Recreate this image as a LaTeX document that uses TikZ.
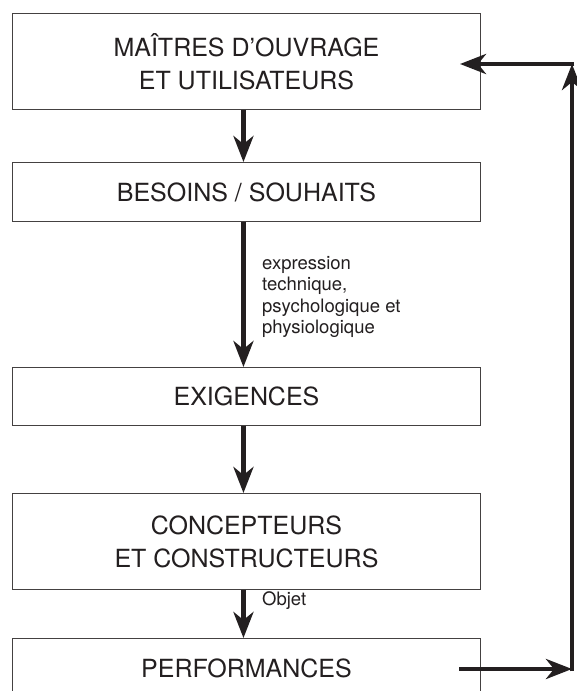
\documentclass[tikz,border=0pt]{standalone}
\usepackage{fontspec}
\setmainfont{TeX Gyre Heros}
\usetikzlibrary{arrows.meta}
\definecolor{ink}{HTML}{231F20}
\begin{document}
\begin{tikzpicture}[x=1pt,y=-1pt,
  box/.style={draw=ink!85, line width=0.9pt, minimum width=468pt, inner sep=0pt,
    font=\fontsize{25}{33}\selectfont, align=center, anchor=north west, text=ink},
  flow/.style={line width=4.8pt, draw=ink, -{Stealth[length=26pt,width=20pt,inset=8pt]}},
  lbl/.style={font=\fontsize{18.5}{21.5}\selectfont, align=left, text=ink, inner sep=0pt}]
\useasboundingbox (0,0) rectangle (576,691);
\fill[white] (0,0) rectangle (576,691);
\node[box, minimum height=96pt] (b1) at (12,13) {MAÎTRES D’OUVRAGE\\ET UTILISATEURS};
\node[box, minimum height=59pt] (b2) at (12,162) {BESOINS / SOUHAITS};
\node[box, minimum height=58pt] (b3) at (12,367) {EXIGENCES};
\node[box, minimum height=96pt] (b4) at (12,493) {CONCEPTEURS\\ET CONSTRUCTEURS};
\node[box, minimum height=60pt] (b5) at (12,638) {PERFORMANCES};
\draw[flow] ([xshift=-3pt]b1.south) -- ([xshift=-3pt]b2.north);
\draw[flow] ([xshift=-3pt]b2.south) -- ([xshift=-3pt]b3.north);
\draw[flow] ([xshift=-3pt]b3.south) -- ([xshift=-3pt]b4.north);
\draw[flow] ([xshift=-3pt]b4.south) -- ([xshift=-3pt]b5.north);
\node[lbl, anchor=north west] (l1) at (262,256) {expression\\technique,\\psychologique et\\physiologique};
\node[lbl, anchor=base west] (l2) at (262,605) {Objet};
\coordinate (fs) at (459,669);
\coordinate (br) at (572,669);
\coordinate (brx) at (572,671.4);
\coordinate (tr) at (572,64);
\coordinate (trx) at (574.4,64);
\coordinate (ft) at (460,64);
\draw[flow] (fs) -- (br);
\draw[flow] (brx) -- (tr);
\draw[flow] (trx) -- (ft);
\end{tikzpicture}
\end{document}
